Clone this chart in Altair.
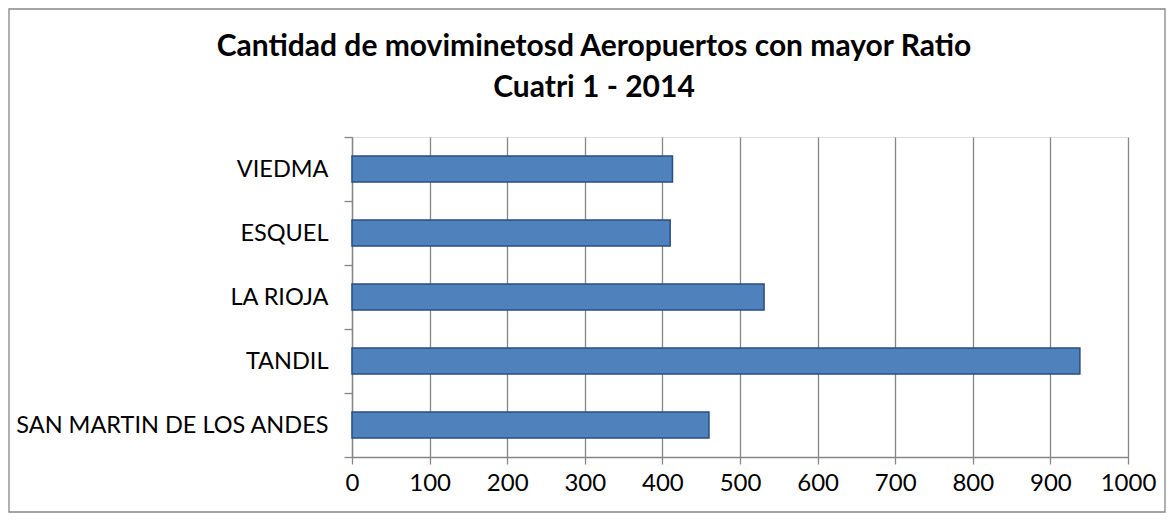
import altair as alt
import pandas as pd

airports = ["VIEDMA", "ESQUEL", "LA RIOJA", "TANDIL", "SAN MARTIN DE LOS ANDES"]
movements = [413, 410, 531, 938, 460]
x_ticks = [0, 100, 200, 300, 400, 500, 600, 700, 800, 900, 1000]
title_line1 = "Cantidad de moviminetosd Aeropuertos con mayor Ratio"
title_line2 = "Cuatri 1 - 2014"

df = pd.DataFrame({"airport": airports, "value": movements})
one = pd.DataFrame({"k": [0]})

FONT = "Lato"
GRAY = "#868686"

bars = alt.Chart(df).mark_bar(
    color="#4F81BD", stroke="#2A4E7F", strokeWidth=1.5, height=26
).encode(
    x=alt.X("value:Q",
            scale=alt.Scale(domain=[0, 1000], nice=False),
            axis=alt.Axis(values=x_ticks, title=None, grid=True, gridColor=GRAY,
                          gridWidth=1.3, domainColor=GRAY, domainWidth=1.3,
                          tickColor=GRAY, tickWidth=1.3, tickSize=7, format="d",
                          labelPadding=7, labelFont=FONT, labelFontSize=24,
                          labelColor="#000000", labelFlush=False)),
    y=alt.Y("airport:N", sort=airports,
            scale=alt.Scale(paddingInner=0, paddingOuter=0),
            axis=alt.Axis(title=None, grid=False, tickBand="extent",
                          domainColor=GRAY, domainWidth=1.3,
                          tickColor=GRAY, tickWidth=1.3, tickSize=8,
                          labelPadding=16, labelFont=FONT, labelFontSize=23.5,
                          labelLimit=400, labelColor="#000000")),
)

frame = alt.Chart(one).mark_rect(
    fill=None, stroke=GRAY, strokeWidth=1.3, clip=False
).encode(
    x=alt.value(-343), x2=alt.value(813),
    y=alt.value(-128), y2=alt.value(375),
)

t1 = alt.Chart(one).mark_text(
    text=title_line1, font=FONT, fontSize=30, fontWeight="bold",
    color="#000000", align="center", baseline="middle"
).encode(x=alt.value(242), y=alt.value(-90))

t2 = alt.Chart(one).mark_text(
    text=title_line2, font=FONT, fontSize=30, fontWeight="bold",
    color="#000000", align="center", baseline="middle"
).encode(x=alt.value(242), y=alt.value(-49))

chart = alt.layer(frame, bars, t1, t2).properties(
    width=776, height=320,
    autosize=alt.AutoSizeParams(type="none"),
    padding={"left": 344, "top": 129, "right": 38, "bottom": 56},
).configure_view(stroke=None).configure(background="#FFFFFF")

chart.save("out.html", embed_options={"renderer": "svg", "actions": False})
